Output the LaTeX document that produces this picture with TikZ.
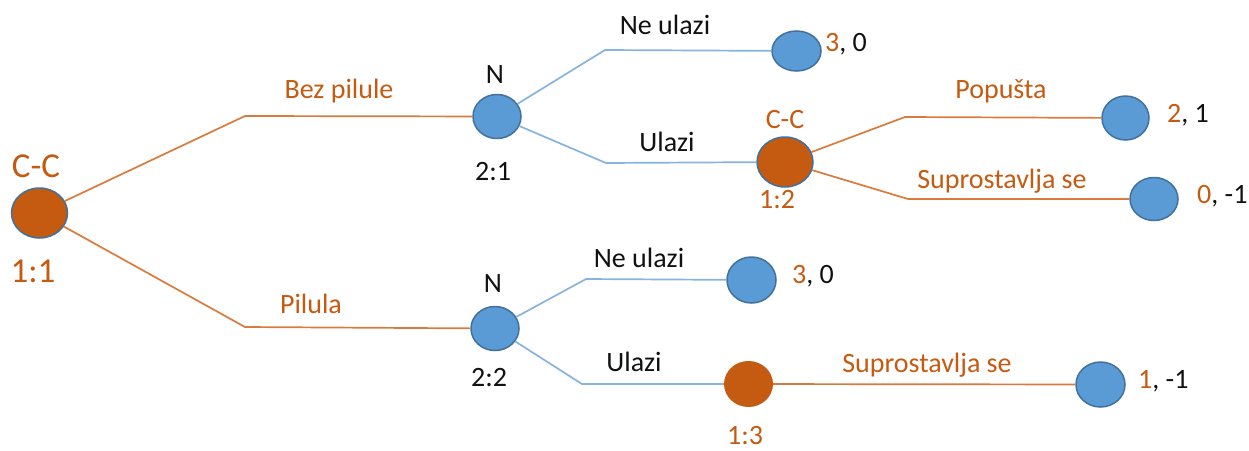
\documentclass[tikz,border=0pt]{standalone}
\usepackage{fontspec}
\setmainfont{Carlito}
\usetikzlibrary{shapes.geometric}
\definecolor{orfill}{HTML}{C55A11}
\definecolor{orline}{HTML}{D97B3C}
\definecolor{ortext}{HTML}{C55A11}
\definecolor{blfill}{HTML}{5B9BD5}
\definecolor{blborder}{HTML}{41719C}
\definecolor{blline}{HTML}{86B3DF}
\definecolor{dark}{HTML}{111111}
\begin{document}
\begin{tikzpicture}[x=1pt,y=-1pt,
  bnode/.style={ellipse,draw=blborder,fill=blfill,line width=1.5pt,inner sep=0pt,minimum width=48pt,minimum height=44pt},
  onode/.style={ellipse,draw=blborder,fill=orfill,line width=1.5pt,inner sep=0pt,minimum width=56pt,minimum height=50pt},
  oplain/.style={ellipse,fill=orfill,inner sep=0pt,minimum width=49pt,minimum height=46pt},
  oedge/.style={draw=orline,line width=1.7pt},
  bedge/.style={draw=blline,line width=1.7pt},
  txt/.style={anchor=base,inner sep=0pt,font=\fontsize{28}{30}\selectfont},
  otxt/.style={txt,text=ortext},
  ktxt/.style={txt,text=dark},
  bigtxt/.style={anchor=base,inner sep=0pt,font=\fontsize{35}{38}\selectfont,text=ortext},
  pay/.style={anchor=base west,inner sep=0pt,font=\fontsize{28}{30}\selectfont,text=dark}
]
\useasboundingbox (0,0) rectangle (1249,450);
% nodes
\node[onode] (root) at (39.5,213) {};
\node[bnode] (n1) at (497,116.5) {};
\node[bnode,minimum width=49pt,minimum height=40pt] (l1) at (796.5,51) {};
\node[onode] (cc2) at (785,162) {};
\node[bnode,minimum width=47pt] (l2) at (1125.5,118) {};
\node[bnode,minimum width=48pt,minimum height=43pt] (l3) at (1154,199) {};
\node[bnode] (n2) at (495,328.5) {};
\node[bnode,minimum width=49pt,minimum height=46pt] (l4) at (751.5,280) {};
\node[oplain] (o3) at (748.5,384) {};
\node[bnode,minimum width=49pt,minimum height=45pt] (l5) at (1100.5,384.5) {};
% bend coordinates
\coordinate (r1) at (245,116);
\coordinate (r2) at (245,327);
\coordinate (a1) at (605,50);
\coordinate (a2) at (606,163);
\coordinate (b1) at (905,117);
\coordinate (b2) at (908,199);
\coordinate (c1) at (586,279);
\coordinate (c2) at (582,384);
% edges
\draw[oedge] (root) -- (r1) -- (n1);
\draw[oedge] (root) -- (r2) -- (n2);
\draw[bedge] (n1) -- (a1) -- (l1);
\draw[bedge] (n1) -- (a2) -- (cc2);
\draw[oedge] (cc2) -- (b1) -- (l2);
\draw[oedge] (cc2) -- (b2) -- (l3);
\draw[bedge] (n2) -- (c1) -- (l4);
\draw[bedge] (n2) -- (c2) -- (o3);
\draw[oedge] (o3) -- (l5);
% labels
\node[bigtxt] (tcc) at (36,177) {C-C};
\node[bigtxt] (t11) at (33,282) {1:1};
\node[otxt] (tbez) at (339,98) {Bez pilule};
\node[otxt] (tpil) at (311,313) {Pilula};
\node[ktxt] (tn1) at (495,83) {N};
\node[ktxt] (t21) at (493,180) {2:1};
\node[ktxt] (tne1) at (665,34) {Ne ulazi};
\node[ktxt] (tul1) at (667,151) {Ulazi};
\node[otxt] (tcc2) at (785,128) {C-C};
\node[otxt] (t12) at (777,208) {1:2};
\node[otxt] (tpop) at (1001,98) {Popušta};
\node[otxt] (tsup1) at (1002,188) {Suprostavlja se};
\node[ktxt] (tn2) at (493,292) {N};
\node[ktxt] (t22) at (489,386) {2:2};
\node[ktxt] (tne2) at (639,267) {Ne ulazi};
\node[ktxt] (tul2) at (634,371) {Ulazi};
\node[otxt] (t13) at (745,444) {1:3};
\node[otxt] (tsup2) at (927,372) {Suprostavlja se};
% payoffs
\node[pay] (p1) at (825,51) {\textcolor{ortext}{3}, 0};
\node[pay] (p2) at (1167,122) {\textcolor{ortext}{2}, 1};
\node[pay] (p3) at (1197,203) {\textcolor{ortext}{0}, -1};
\node[pay] (p4) at (792,283) {\textcolor{ortext}{3}, 0};
\node[pay] (p5) at (1138,388) {\textcolor{ortext}{1}, -1};
\end{tikzpicture}
\end{document}
